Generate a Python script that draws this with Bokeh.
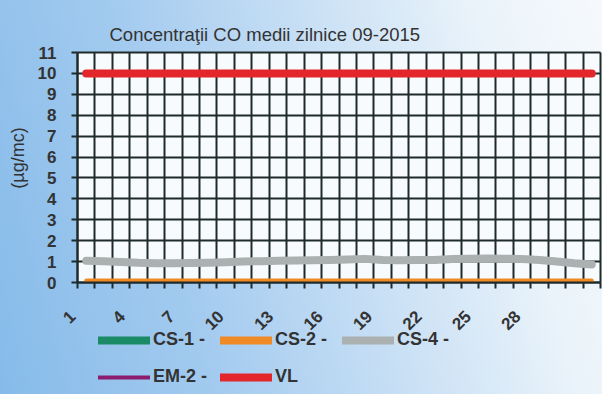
import math
from bokeh.plotting import figure
from bokeh.models import (Range1d, LinearAxis, FixedTicker, Legend, LegendItem,
                          CustomLabelingPolicy, BoxAnnotation, Label)
from bokeh.embed import file_html
from bokeh.resources import INLINE

# ---------------- data ----------------
days = [1, 2, 3, 4, 5, 6, 7, 8, 9, 10, 11, 12, 13, 14, 15,
        16, 17, 18, 19, 20, 21, 22, 23, 24, 25, 26, 27, 28, 29, 30]
NA = float("nan")
cs1 = [NA] * 30
cs2 = [0.1, 0.1, 0.1, 0.1, 0.1, 0.1, 0.1, 0.1, 0.1, 0.1, 0.1, 0.1, 0.1, 0.1, 0.1,
       0.1, 0.1, 0.1, 0.1, 0.1, 0.1, 0.1, 0.1, 0.1, 0.1, 0.1, 0.1, 0.1, 0.1, 0.1]
cs4 = [1.04, 1.02, 0.98, 0.94, 0.92, 0.92, 0.93, 0.95, 0.97, 1.0, 1.02, 1.04, 1.05, 1.06, 1.08,
       1.10, 1.13, 1.08, 1.06, 1.08, 1.08, 1.12, 1.14, 1.15, 1.14, 1.12, 1.08, 1.0, 0.92, 0.86]
em2 = [NA] * 30
vl = [10, 10, 10, 10, 10, 10, 10, 10, 10, 10, 10, 10, 10, 10, 10,
      10, 10, 10, 10, 10, 10, 10, 10, 10, 10, 10, 10, 10, 10, 10]
x_tick_labels = ["1", "4", "7", "10", "13", "16", "19", "22", "25", "28"]
y_ticks = [0, 1, 2, 3, 4, 5, 6, 7, 8, 9, 10, 11]
title_text = "Concentraţii CO medii zilnice 09-2015"
y_title = "(µg/mc)"

# ---------------- layout (pixels, canvas coordinates) ----------------
W, H = 602, 394
GL, GR = 77, 600             # left/right edge of the grid
GT, GB = 52, 282             # top/bottom edge of the grid
XMIN_C, XMAX_C = days[0] - 0.5, days[-1] + 0.5
YMAX = y_ticks[-1]
px_x = (GR - GL) / (XMAX_C - XMIN_C)
px_y = (GB - GT) / YMAX
x_lo = XMIN_C - GL / px_x
x_hi = XMAX_C + (W - GR) / px_x
y_lo = -(H - GB) / px_y
y_hi = YMAX + GT / px_y

def dx(cx):   # canvas x -> data x
    return x_lo + cx / px_x

def dy(cy):   # canvas y -> data y
    return (GB - cy) / px_y

FONT = "Liberation Sans"
TXT = "#333333"
GRID = "#1f2a2a"

p = figure(width=W, height=H, output_backend="svg", toolbar_location=None,
           x_range=Range1d(x_lo, x_hi), y_range=Range1d(y_lo, y_hi),
           x_axis_location=None, y_axis_location=None,
           min_border=0)
p.background_fill_color = None
p.border_fill_color = None
p.outline_line_color = None
p.styles = {"background": "linear-gradient(75deg, #86bbe9 0%, #a2caef 30%, "
                          "#c9e0f5 58%, #eaf3fa 82%, #f6f9fc 100%)"}

# white plotting area
p.add_layout(BoxAnnotation(left=XMIN_C, right=XMAX_C, bottom=0, top=YMAX,
                           fill_color="#f8fbfe", fill_alpha=1, line_alpha=0,
                           level="image"))

# title
p.add_layout(Label(x=dx(109), y=dy(34), text=title_text, text_align="left",
                   text_baseline="alphabetic", text_font=FONT,
                   text_font_size="18.5px", text_font_style="normal",
                   text_color=TXT))

# grid
boundaries = [d - 0.5 for d in days] + [days[-1] + 0.5]
try:
    p.xgrid.cross_bounds = (0, YMAX)
    p.ygrid.cross_bounds = (XMIN_C, XMAX_C)
    p.xgrid.ticker = FixedTicker(ticks=boundaries)
    p.ygrid.ticker = FixedTicker(ticks=y_ticks)
    for g in (p.xgrid, p.ygrid):
        g.grid_line_color = GRID
        g.grid_line_width = 2
except Exception:
    p.xgrid.visible = False
    p.ygrid.visible = False
    p.segment(x0=boundaries, y0=[0] * len(boundaries), x1=boundaries,
              y1=[YMAX] * len(boundaries), line_color=GRID, line_width=2)
    p.segment(x0=[XMIN_C] * len(y_ticks), y0=y_ticks, x1=[XMAX_C] * len(y_ticks),
              y1=y_ticks, line_color=GRID, line_width=2)

# x axis at y=0: ticks only
xa = LinearAxis(ticker=FixedTicker(ticks=boundaries), fixed_location=0,
                bounds=(XMIN_C, XMAX_C))
xa.major_label_policy = CustomLabelingPolicy(code="return new Set()")
xa.major_label_text_font_size = "1px"
xa.major_tick_out = 6
xa.major_tick_in = 0
xa.minor_tick_line_color = None
xa.axis_line_color = GRID
xa.axis_line_width = 2
xa.major_tick_line_color = GRID
xa.major_tick_line_width = 2
p.add_layout(xa, "below")

# label axis (labels only, spaced as in the reference)
lab_px = 16.48
lab_first_px = 72
lab_start = 1 - lab_first_px / lab_px
lab_end = lab_start + W / lab_px
p.extra_x_ranges = {"lab": Range1d(lab_start, lab_end)}
la = LinearAxis(x_range_name="lab", fixed_location=0,
                ticker=FixedTicker(ticks=[int(s) for s in x_tick_labels]))
la.major_label_overrides = {int(s): s for s in x_tick_labels}
la.axis_line_color = None
la.major_tick_line_color = None
la.minor_tick_line_color = None
la.major_tick_out = 0
la.major_tick_in = 0
la.major_label_orientation = math.pi / 4
la.major_label_standoff = 31
la.major_label_text_font = FONT
la.major_label_text_font_size = "17px"
la.major_label_text_font_style = "bold"
la.major_label_text_color = TXT
p.add_layout(la, "below")

# y axis at the grid's left edge
ya = LinearAxis(ticker=FixedTicker(ticks=y_ticks), fixed_location=XMIN_C,
                bounds=(0, YMAX))
ya.major_label_text_font = FONT
ya.major_label_text_font_size = "17px"
ya.major_label_text_font_style = "bold"
ya.major_label_text_color = TXT
ya.major_label_standoff = 15
ya.major_tick_out = 6
ya.major_tick_in = 0
ya.minor_tick_line_color = None
ya.axis_line_color = GRID
ya.axis_line_width = 2
ya.major_tick_line_color = GRID
ya.major_tick_line_width = 2
p.add_layout(ya, "left")

# y axis title
p.add_layout(Label(x=dx(17.5), y=dy(157.5), text=y_title, angle=math.pi / 2,
                   text_align="center", text_baseline="middle", text_font=FONT,
                   text_font_size="18px", text_font_style="normal",
                   text_color=TXT))

# series
r_cs1 = p.line(days, cs1, line_color="#1b8a66", line_width=8, line_cap="round")
r_em2 = p.line(days, em2, line_color="#8c1c6e", line_width=4, line_cap="round")
r_vl = p.line(days, vl, line_color="#e3262b", line_width=8, line_cap="round",
              line_join="round")
r_cs4 = p.line(days, cs4, line_color="#abb0b0", line_width=8, line_cap="round",
               line_join="round")
r_cs2 = p.line(days, cs2, line_color="#f08a24", line_width=4, line_cap="round")
r_cs2_key = p.line(days, [NA] * 30, line_color="#f08a24", line_width=8,
                   line_cap="round")

# legends: two rows below the chart (location from the canvas bottom-left)
def make_leg(pairs, ly):
    lg = Legend(items=[LegendItem(label=lab, renderers=rs) for lab, rs in pairs],
                location=(98, ly), orientation="horizontal",
                glyph_width=52, glyph_height=20, label_standoff=3,
                label_height=20, label_width=55, padding=0, margin=0,
                spacing=12, border_line_alpha=0, background_fill_alpha=0,
                label_text_font=FONT, label_text_font_size="18px",
                label_text_font_style="bold", label_text_color=TXT)
    p.add_layout(lg, "center")

make_leg([("CS-1 -", [r_cs1]), ("CS-2 -", [r_cs2, r_cs2_key]),
          ("CS-4 -", [r_cs4])], 44)
make_leg([("EM-2 -", [r_em2]), ("VL", [r_vl])], 7)

open("out.html", "w").write(file_html(p, INLINE))
